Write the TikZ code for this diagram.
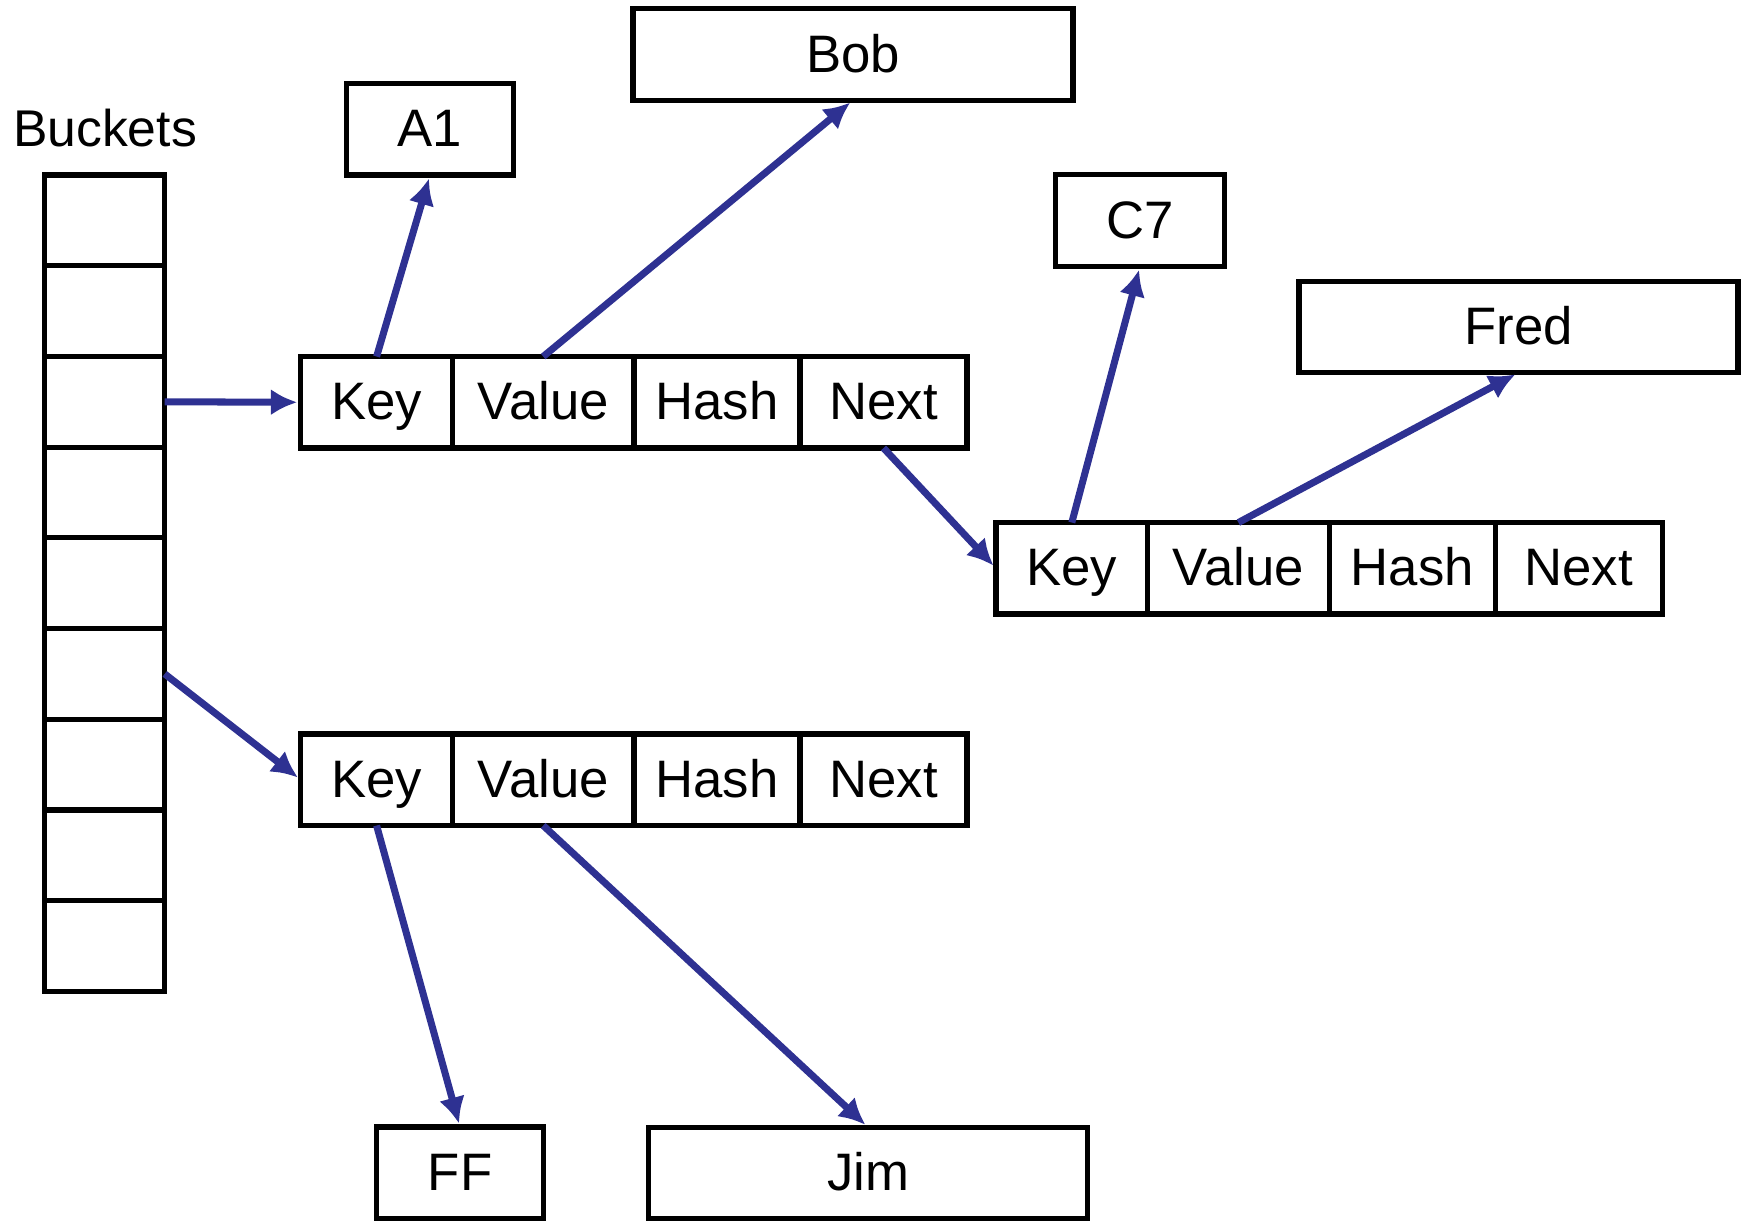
\documentclass[tikz,border=0pt]{standalone}
\usepackage{fontspec}
\setmainfont{Liberation Sans}
\usepackage{xcolor}
\usepackage{tikz}
\usetikzlibrary{arrows.meta,positioning}
\definecolor{linkblue}{RGB}{46, 49, 146}

\begin{document}
\begin{tikzpicture}[
    node distance=0pt,
    cell/.style={rectangle, draw=black, line width=1.5pt, outer sep=0pt, inner sep=0pt, minimum height=0.915cm, text height=12pt, text depth=2pt, font=\fontsize{15}{18}\selectfont},
    bucket/.style={cell, minimum width=1.2cm, minimum height=0.907cm},
    link/.style={-{Latex[length=7.5pt, width=7.5pt]}, line width=2pt, linkblue, shorten >=1pt}
]
    \useasboundingbox (0,0) rectangle (17.47,-12.25);

    % buckets column
    \node[font=\fontsize{14.7}{17}\selectfont] (blabel) at (1.05,-1.28) {Buckets};
    \node[bucket] (b1) at (1.047,-2.204) {};
    \foreach \i [remember=\i as \j (initially 1)] in {2,...,9}
        \node[bucket, below=of b\j] (b\i) {};

    % first entry
    \node[cell, minimum width=1.516cm] (k1) at (3.766,-4.023) {Key};
    \node[cell, minimum width=1.816cm, right=of k1] (v1) {Value};
    \node[cell, minimum width=1.66cm, right=of v1] (h1) {Hash};
    \node[cell, minimum width=1.67cm, right=of h1] (n1) {Next};

    % chained entry
    \node[cell, minimum width=1.516cm] (k2) at (10.718,-5.683) {Key};
    \node[cell, minimum width=1.816cm, right=of k2] (v2) {Value};
    \node[cell, minimum width=1.66cm, right=of v2] (h2) {Hash};
    \node[cell, minimum width=1.67cm, right=of h2] (n2) {Next};

    % second bucket entry
    \node[cell, minimum width=1.516cm] (k3) at (3.766,-7.798) {Key};
    \node[cell, minimum width=1.816cm, right=of k3] (v3) {Value};
    \node[cell, minimum width=1.66cm, right=of v3] (h3) {Hash};
    \node[cell, minimum width=1.67cm, right=of h3] (n3) {Next};

    % keys and values
    \node[cell, minimum width=1.672cm] (a1) at (4.30,-1.293) {A1};
    \node[cell, minimum width=4.40cm] (bob) at (8.53,-0.545) {Bob};
    \node[cell, minimum width=1.685cm] (c7) at (11.40,-2.205) {C7};
    \node[cell, minimum width=4.39cm] (fred) at (15.185,-3.27) {Fred};
    \node[cell, minimum width=1.671cm] (ff) at (4.60,-11.728) {FF};
    \node[cell, minimum width=4.39cm] (jim) at (8.68,-11.73) {Jim};

    \draw[link] (b3.east) -- (k1.west);
    \draw[link] (k1.north) -- (a1.south);
    \draw[link] (v1.north) -- (bob.south);
    \draw[link] (n1.south) -- (k2.west);
    \draw[link] (k2.north) -- (c7.south);
    \draw[link] (v2.north) -- (fred.south);
    \draw[link] (b6.east) -- (k3.west);
    \draw[link] (k3.south) -- (ff.north);
    \draw[link] (v3.south) -- (jim.north);
\end{tikzpicture}
\end{document}
